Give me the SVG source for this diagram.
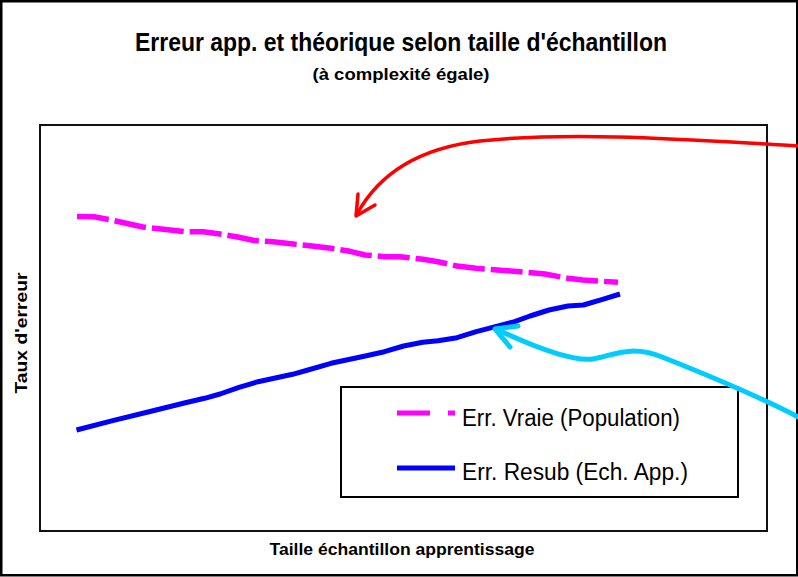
<svg xmlns="http://www.w3.org/2000/svg" width="798" height="577" viewBox="0 0 798 577">
<style>
.frame{fill:#fff;stroke:#000;stroke-width:2.5}
.plot{fill:#fff;stroke:#111;stroke-width:2}
.leg{fill:#fff;stroke:#000;stroke-width:2}
.bold{font-family:"Liberation Sans",Arial,sans-serif;font-weight:bold;fill:#000}
.lt{font-family:"Liberation Sans",Arial,sans-serif;font-size:23px;fill:#000}
.vraie{fill:none;stroke:#FF00FF;stroke-width:5.5;stroke-dasharray:32 6;stroke-linejoin:round}
.resub{fill:none;stroke:#0000FF;stroke-width:5;stroke-linejoin:round}
.red{fill:none;stroke:#FF0000;stroke-width:3.5;stroke-linecap:round;stroke-linejoin:round}
.cyan{fill:none;stroke:#00CCFF;stroke-width:5;stroke-linecap:round;stroke-linejoin:round}
</style>
<rect id="background" class="frame" x="1.25" y="1.25" width="796" height="574"/>
<g id="title">
<text class="bold" x="401" y="51" font-size="25" text-anchor="middle" textLength="532" lengthAdjust="spacingAndGlyphs">Erreur app. et théorique selon taille d'échantillon</text>
<text class="bold" x="401" y="80" font-size="17" text-anchor="middle" textLength="177" lengthAdjust="spacingAndGlyphs">(à complexité égale)</text>
</g>
<g id="plot-area">
<rect class="plot" x="40" y="125" width="727" height="406"/>
</g>
<g id="x-axis-label">
<text class="bold" x="402" y="555" font-size="17" text-anchor="middle" textLength="265" lengthAdjust="spacingAndGlyphs">Taille échantillon apprentissage</text>
</g>
<g id="y-axis-label">
<text class="bold" transform="translate(27,333) rotate(-90)" x="0" y="0" font-size="16" text-anchor="middle" textLength="121" lengthAdjust="spacingAndGlyphs">Taux d'erreur</text>
</g>
<g id="series-vraie">
<path class="vraie" d="M77,216.5 L94,216.7 L111,220 L143,227 L185,231.7 L203,231.7 L220,234 L239,237.3 L254,240.5 L273,241.7 L293,244 L312,246 L331,248.3 L350,251.3 L365,255 L385,256.7 L400,256.7 L423,259.3 L438,261.7 L457,266 L476,268.3 L507,270.7 L545,274 L568,278.3 L583,280 L618,282.3"/>
</g>
<g id="series-resub">
<path class="resub" d="M76.5,430 L112.7,420.7 L149,411.7 L185.4,402.7 L204.6,398.3 L220,394 L239,387.3 L258,381.7 L292.6,374.3 L308,370 L331,363.3 L365.3,356 L384.4,351.7 L403.6,346 L422.7,342.3 L438,340.7 L457,337.7 L476.3,331.7 L495.4,326.7 L514.6,321.7 L530,316 L549,310 L568,306 L583.4,305 L602.6,299.3 L620,294"/>
</g>
<g id="legend">
<rect class="leg" x="341" y="387" width="397" height="110"/>
<line x1="397" y1="413" x2="455" y2="413" stroke="#FF00FF" stroke-width="5" stroke-dasharray="33 18"/>
<text class="lt" x="462" y="426" textLength="218" lengthAdjust="spacingAndGlyphs">Err. Vraie (Population)</text>
<line x1="397" y1="468" x2="455" y2="468" stroke="#0000FF" stroke-width="5"/>
<text class="lt" x="462" y="480" textLength="226" lengthAdjust="spacingAndGlyphs">Err. Resub (Ech. App.)</text>
</g>
<g id="connectors">
<g id="arrow-red">
<path class="red" d="M800,146 C720,142 580,130 480,141 C420,148 380,172 357,214"/>
<path class="red" d="M358,194 L356,216 L375,205"/>
</g>
<g id="arrow-cyan">
<path class="cyan" d="M800,418 C760,397 700,372 662,357 C630,344 612,356 593,359 C572,362 530,345 496,329"/>
<path class="cyan" d="M518,326 L495,329 L510,347"/>
</g>
</g>
</svg>
